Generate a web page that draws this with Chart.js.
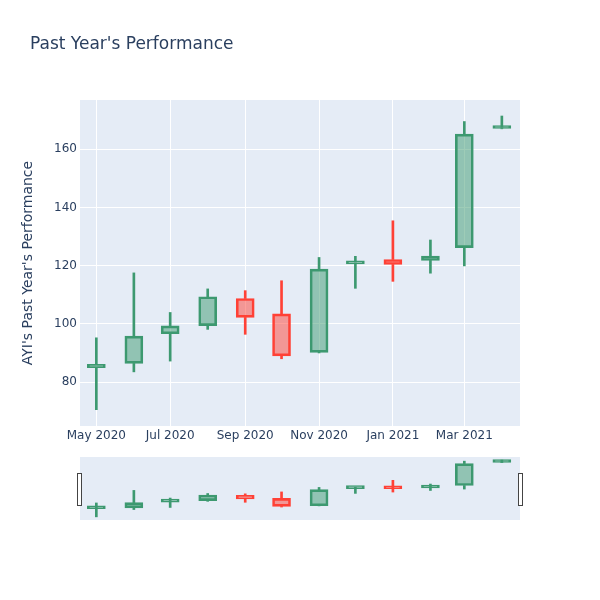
<!DOCTYPE html>
<html>
<head>
<meta charset="utf-8">
<script src="https://cdn.jsdelivr.net/npm/chart.js@4.4.0/dist/chart.umd.min.js"></script>
<style>
html, body { margin: 0; padding: 0; background: #fff; }
#wrap { position: relative; width: 600px; height: 600px; }
canvas { position: absolute; left: 0; top: 0; }
#title { position: absolute; left: 30px; top: 33px; font: 17px "DejaVu Sans", sans-serif; color: #2a3f5f; white-space: nowrap; }
</style>
</head>
<body>
<div id="wrap">
  <canvas id="main" width="600" height="600"></canvas>
  <canvas id="slider" width="600" height="600"></canvas>
  <div id="title">Past Year's Performance</div>
</div>
<script>
// monthly candles, AYI
const months = ['2020-05-01', '2020-06-01', '2020-07-01', '2020-08-01', '2020-09-01', '2020-10-01',
                '2020-11-01', '2020-12-01', '2021-01-01', '2021-02-01', '2021-03-01', '2021-04-01'];
const opens  = [84.9, 86.4, 96.6, 99.4, 108.7, 103.4, 90.2, 120.6, 122.1, 121.8, 126.2, 167.1];
const highs  = [95.2, 117.5, 103.9, 112.0, 111.4, 114.8, 122.8, 123.2, 135.4, 128.8, 169.5, 171.4];
const lows   = [70.5, 83.5, 87.2, 98.1, 96.4, 88.0, 90.0, 112.2, 114.6, 117.4, 119.9, 167.0];
const closes = [86.1, 95.8, 99.3, 109.3, 102.2, 89.0, 118.8, 121.2, 120.4, 123.3, 165.2, 167.5];

const tickDates  = ['2020-05-01', '2020-07-01', '2020-09-01', '2020-11-01', '2021-01-01', '2021-03-01'];
const tickLabels = ['May 2020', 'Jul 2020', 'Sep 2020', 'Nov 2020', 'Jan 2021', 'Mar 2021'];
const yTicks = [80, 100, 120, 140, 160];

const t0 = Date.parse(months[0]);
const dayOf = d => (Date.parse(d) - t0) / 864e5;
const xs = months.map(dayOf);
const tickDays = tickDates.map(dayOf);

const UP = '#3D9970', UP_FILL = 'rgba(61,153,112,0.5)';
const DOWN = '#FF4136', DOWN_FILL = 'rgba(255,65,54,0.5)';
const isUp = opens.map((o, i) => closes[i] >= o);
const lineColors = isUp.map(u => u ? UP : DOWN);
const fillColors = isUp.map(u => u ? UP_FILL : DOWN_FILL);

Chart.defaults.font.family = '"DejaVu Sans", sans-serif';
Chart.defaults.color = '#2a3f5f';

function candleSets() {
    return [{
        label: 'lower',
        data: xs.map((x, i) => ({ x: x, y: [lows[i], Math.min(opens[i], closes[i])] })),
        backgroundColor: lineColors,
        borderWidth: 0,
        barThickness: 2,
        grouped: false
    }, {
        label: 'upper',
        data: xs.map((x, i) => ({ x: x, y: [Math.max(opens[i], closes[i]), highs[i]] })),
        backgroundColor: lineColors,
        borderWidth: 0,
        barThickness: 2,
        grouped: false
    }, {
        label: 'body',
        data: xs.map((x, i) => ({ x: x, y: [opens[i], closes[i]] })),
        backgroundColor: fillColors,
        borderColor: lineColors,
        borderWidth: 2,
        borderSkipped: false,
        barThickness: 18,
        minBarLength: 3,
        grouped: false
    }];
}

const plotBg = {
    id: 'plotBg',
    beforeDraw(chart) {
        const a = chart.chartArea, ctx = chart.ctx;
        ctx.save();
        ctx.fillStyle = '#E5ECF6';
        ctx.fillRect(a.left, a.top, a.right - a.left, a.bottom - a.top);
        ctx.restore();
    }
};

const grabbers = {
    id: 'grabbers',
    afterDraw(chart) {
        const a = chart.chartArea, ctx = chart.ctx;
        const mid = (a.top + a.bottom) / 2 + 1;
        ctx.save();
        ctx.fillStyle = '#fff';
        ctx.strokeStyle = '#444';
        ctx.lineWidth = 1;
        [a.left - 0.5, a.right + 0.5].forEach(cx => {
            ctx.fillRect(cx - 2, mid - 16, 4, 32);
            ctx.strokeRect(cx - 2, mid - 16, 4, 32);
        });
        ctx.restore();
    }
};

const X_MIN = -13.5, X_MAX = 350;
const Y_MIN = 64.9, Y_MAX = 176.9;

new Chart(document.getElementById('main'), {
    type: 'bar',
    data: { datasets: candleSets() },
    options: {
        responsive: false,
        animation: false,
        layout: { padding: { left: 0, right: 80, top: 100, bottom: 144 } },
        plugins: { legend: { display: false }, tooltip: { enabled: false } },
        scales: {
            x: {
                type: 'linear',
                min: X_MIN,
                max: X_MAX,
                offset: false,
                grid: { color: '#fff', lineWidth: 1, offset: false, drawTicks: false },
                border: { display: false },
                afterBuildTicks: s => { s.ticks = tickDays.map(v => ({ value: v })); },
                afterFit: s => { s.height = 30; },
                ticks: {
                    color: '#2a3f5f',
                    font: { size: 12 },
                    padding: 3,
                    maxRotation: 0,
                    autoSkip: false,
                    callback: (v, i) => tickLabels[i]
                }
            },
            y: {
                min: Y_MIN,
                max: Y_MAX,
                grid: { color: '#fff', lineWidth: 1, drawTicks: false },
                border: { display: false },
                afterBuildTicks: s => { s.ticks = yTicks.map(v => ({ value: v })); },
                afterFit: s => { s.width = 80; },
                ticks: { color: '#2a3f5f', font: { size: 12 }, padding: 3 },
                title: {
                    display: true,
                    text: "AYI's Past Year's Performance",
                    color: '#2a3f5f',
                    font: { size: 14 },
                    padding: { top: 20, bottom: 0 }
                }
            }
        }
    },
    plugins: [plotBg]
});

new Chart(document.getElementById('slider'), {
    type: 'bar',
    data: { datasets: candleSets() },
    options: {
        responsive: false,
        animation: false,
        layout: { padding: { left: 80, right: 80, top: 457, bottom: 80 } },
        plugins: { legend: { display: false }, tooltip: { enabled: false } },
        scales: {
            x: { type: 'linear', display: false, min: X_MIN, max: X_MAX, offset: false },
            y: { display: false, min: Y_MIN, max: Y_MAX }
        }
    },
    plugins: [plotBg, grabbers]
});
</script>
</body>
</html>
